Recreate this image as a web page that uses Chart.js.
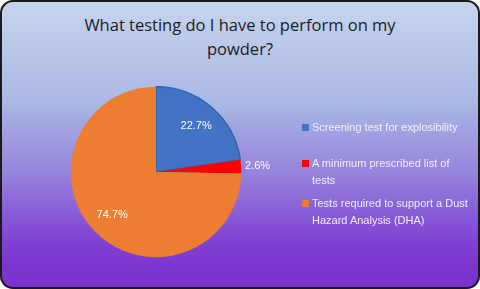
<!DOCTYPE html>
<html>
<head>
<meta charset="utf-8">
<script src="https://cdn.jsdelivr.net/npm/chart.js@4/dist/chart.umd.min.js"></script>
<style>
  html, body { margin: 0; padding: 0; background: #fff; }
  #box {
    position: absolute; left: 0; top: 0; width: 476px; height: 285px;
    border: 2px solid #1a1a1a; border-radius: 13px; overflow: hidden;
    background: linear-gradient(to bottom, #c6d4ee 0%, #aab8e4 35%, #9583dc 60%, #7f3fd2 85%, #7a2fcd 100%);
  }
  #title {
    position: absolute; left: 0; top: 11px; width: 476px; text-align: center;
    font-family: "Open Sans", "Liberation Sans", sans-serif; font-size: 16.5px; line-height: 24px; color: #1c1c1c;
  }
  #legend {
    position: absolute; left: 298px; top: 117px; width: 175px;
    font-family: "Liberation Sans Narrow", "Liberation Sans", sans-serif; font-size: 11px; line-height: 16.5px; color: #f2eeff;
  }
  .item { position: relative; padding-left: 12px; }
  .sw { position: absolute; left: 2px; top: 5px; width: 7px; height: 7px; }
  #c { position: absolute; left: 0; top: 0; }
</style>
</head>
<body>
<div id="box">
  <div id="title">What testing do I have to perform on my<br>powder?</div>
  <canvas id="c" width="476" height="285"></canvas>
  <div id="legend"></div>
</div>
<script>
const labels = ['Screening test for explosibility', 'A minimum prescribed list of tests', 'Tests required to support a Dust Hazard Analysis (DHA)'];
const values = [22.7, 2.6, 74.7];
const colors = ['#4472c4', '#ff0000', '#ed7d31'];
const borders = ['#2c67b3', '#ff0000', '#ed7d31'];

// legend positions (top offsets inside the legend box)
let legendTops = [0, 36, 76];
let legend = document.getElementById('legend');
labels.forEach((l, i) => {
  let d = document.createElement('div');
  d.className = 'item';
  d.style.position = 'absolute';
  d.style.top = legendTops[i] + 'px';
  d.style.width = '158px';
  let s = document.createElement('span');
  s.className = 'sw';
  s.style.background = colors[i];
  d.appendChild(s);
  d.appendChild(document.createTextNode(l));
  legend.appendChild(d);
});

const pctLabels = {
  id: 'pctLabels',
  afterDatasetsDraw(chart) {
    let ctx = chart.ctx;
    let meta = chart.getDatasetMeta(0);
    ctx.save();
    ctx.font = '11px "Liberation Sans Narrow", "Liberation Sans", sans-serif';
    ctx.fillStyle = '#ffffff';
    ctx.textBaseline = 'middle';
    meta.data.forEach((arc, i) => {
      let p = arc.getProps(['x', 'y', 'startAngle', 'endAngle', 'outerRadius']);
      let mid = (p.startAngle + p.endAngle) / 2;
      let txt = values[i].toFixed(1) + '%';
      let r, x, y;
      if (values[i] < 5) {
        r = p.outerRadius + 4;
        ctx.textAlign = 'left';
      } else {
        r = p.outerRadius * 0.72;
        ctx.textAlign = 'center';
      }
      x = p.x + Math.cos(mid) * r;
      y = p.y + Math.sin(mid) * r;
      ctx.fillText(txt, x, y);
    });
    ctx.restore();
  }
};

new Chart(document.getElementById('c'), {
  type: 'pie',
  data: {
    labels: labels,
    datasets: [{
      data: values,
      backgroundColor: colors,
      borderColor: borders,
      borderWidth: [1.5, 0, 0]
    }]
  },
  options: {
    responsive: false,
    animation: false,
    layout: { padding: { left: 68, right: 236, top: 84, bottom: 29 } },
    plugins: {
      legend: { display: false },
      tooltip: { enabled: false }
    }
  },
  plugins: [pctLabels]
});
</script>
</body>
</html>
